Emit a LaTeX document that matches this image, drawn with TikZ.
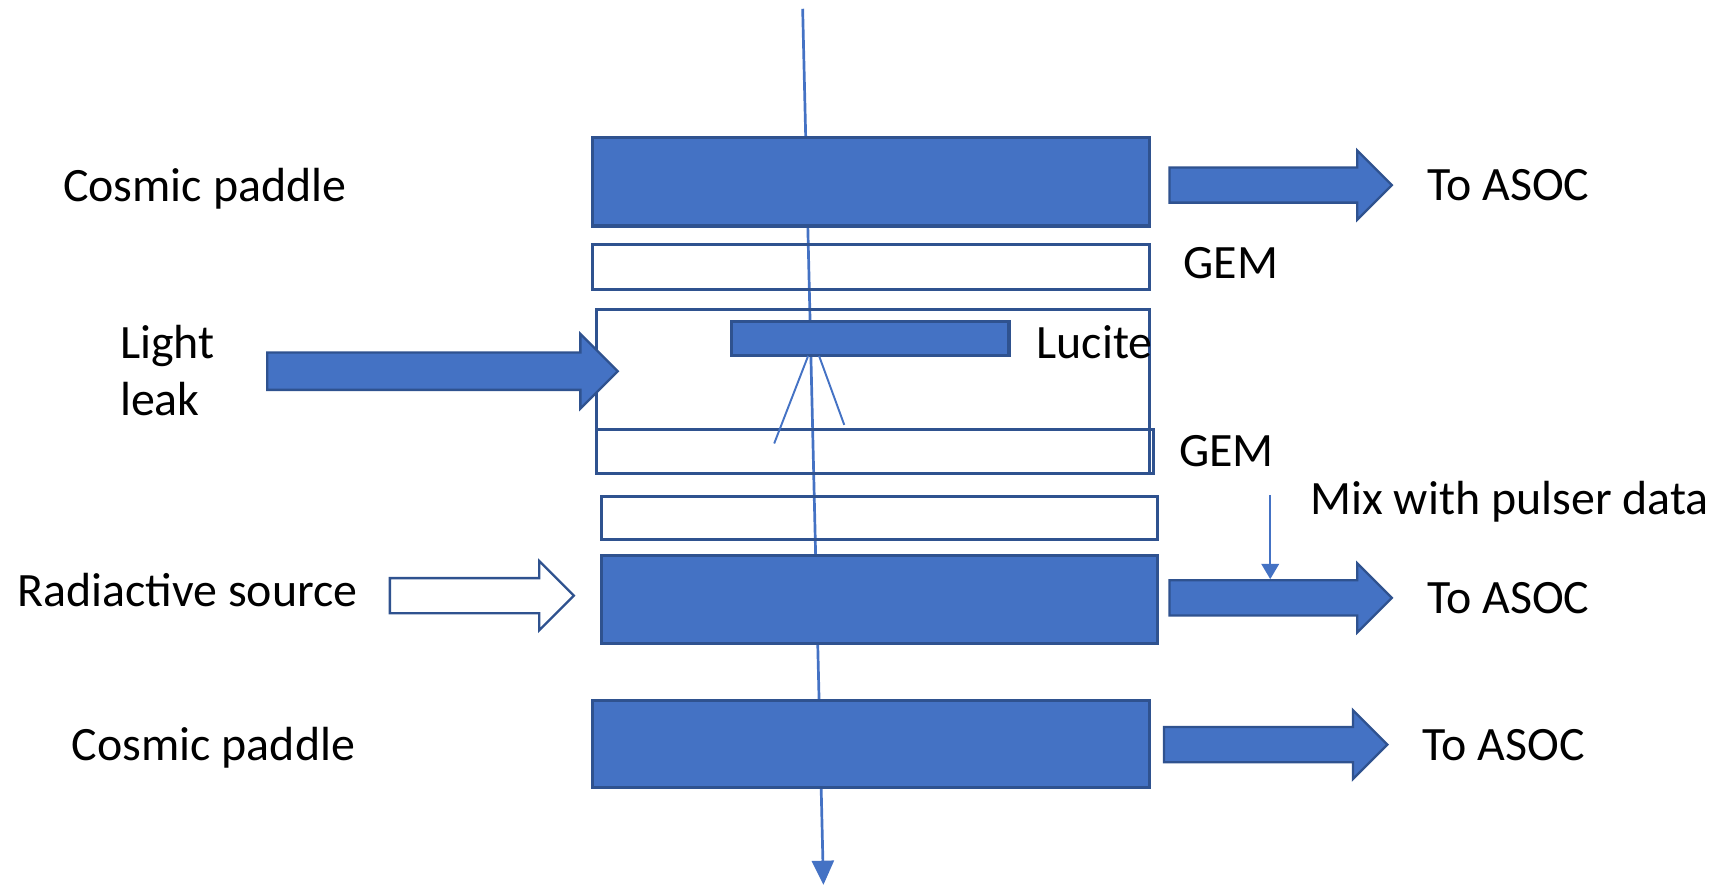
\documentclass[tikz,border=0pt]{standalone}
\usepackage{fontspec}
\setmainfont{Carlito}
\usetikzlibrary{shapes.arrows,arrows.meta,positioning}

\definecolor{accblue}{HTML}{4472C4}
\definecolor{accedge}{HTML}{2F528F}

\tikzset{
    solidbox/.style={draw=accedge, fill=accblue, line width=0.8pt, inner sep=0pt, anchor=north west},
    openbox/.style={draw=accedge, line width=0.8pt, inner sep=0pt, anchor=north west},
    fatarrow/.style={single arrow, draw=accedge, fill=accblue, line width=0.6pt, inner xsep=0pt,
        inner ysep=1.5mm, single arrow head extend=1.55mm, minimum width=0pt, anchor=west},
    tag/.style={font=\fontsize{12.45}{14.9}\selectfont, inner sep=0pt, anchor=west,
        text height=8pt, text depth=0pt},
    track/.style={draw=accblue, line width=0.7pt},
}

\begin{document}
\begin{tikzpicture}[x=0.1mm, y=-0.1mm]
    \useasboundingbox (0,0) rectangle (1568,810);

    % particle track, behind the detectors
    \coordinate (in) at (733, 8);
    \coordinate (out) at (752, 808);
    \draw[track, -{Triangle[length=2.2mm, width=2mm]}] (in) -- (out);

    % detector stack
    \node[solidbox, minimum width=50.8mm, minimum height=8.1mm] (toppad) at (540, 124) {};
    \node[openbox, minimum width=50.8mm, minimum height=4.1mm] (gemA) at (540, 222) {};
    \node[openbox, minimum width=50.5mm, minimum height=15.0mm] (frame) at (543, 281) {};
    \node[solidbox, minimum width=25.3mm, minimum height=3.1mm] (lucite) at (667, 292) {};
    \node[openbox, minimum width=50.9mm, minimum height=4.0mm] (gemB) at (543, 391) {};
    \node[openbox, minimum width=50.8mm, minimum height=3.9mm] (gemC) at (548, 452) {};
    \node[solidbox, minimum width=50.8mm, minimum height=8.0mm] (midpad) at (548, 506) {};
    \node[solidbox, minimum width=50.8mm, minimum height=8.0mm] (botpad) at (540, 638) {};

    % light from the lucite
    \draw[track, line width=0.5pt] (738, 325) -- (707, 405);
    \draw[track, line width=0.5pt] (748, 325) -- (771, 388);

    % left side
    \node[tag] (cosmicA) at (57, 170) {Cosmic paddle};
    \node[tag] (light) at (109, 313) {Light};
    \node[tag] (leak) at (109, 365) {leak};
    \node[fatarrow, inner ysep=1.6mm, single arrow head extend=1.7mm, minimum height=32mm] (leakarrow) at (243, 339) {};
    \node[tag] (source) at (15, 540) {Radiactive source};
    \node[fatarrow, fill=white, minimum height=16.8mm] (srcarrow) at (355, 544) {};
    \node[tag] (cosmicB) at (65, 680) {Cosmic paddle};

    % right side
    \node[fatarrow, minimum height=20.3mm] (asocarrA) at (1067, 169) {};
    \node[tag, right=3mm of asocarrA] (asocA) {To ASOC};
    \node[tag] (gemlabA) at (1080, 240) {GEM};
    \node[tag] (lucitelab) at (946, 313) {Lucite};
    \node[tag] (gemlabB) at (1076, 412) {GEM};
    \node[tag] (mix) at (1196, 456) {Mix with pulser data};
    \node[fatarrow, minimum height=20.3mm] (asocarrB) at (1067, 546) {};
    \node[tag, right=3mm of asocarrB] (asocB) {To ASOC};
    \node[fatarrow, minimum height=20.4mm] (asocarrC) at (1062, 680) {};
    \node[tag, right=3mm of asocarrC] (asocC) {To ASOC};

    \coordinate (pulser) at (1160, 452);
    \draw[track, line width=0.6pt, -{Triangle[length=1.4mm, width=1.6mm]}] (pulser) -- (pulser |- asocarrB.north);
\end{tikzpicture}
\end{document}
